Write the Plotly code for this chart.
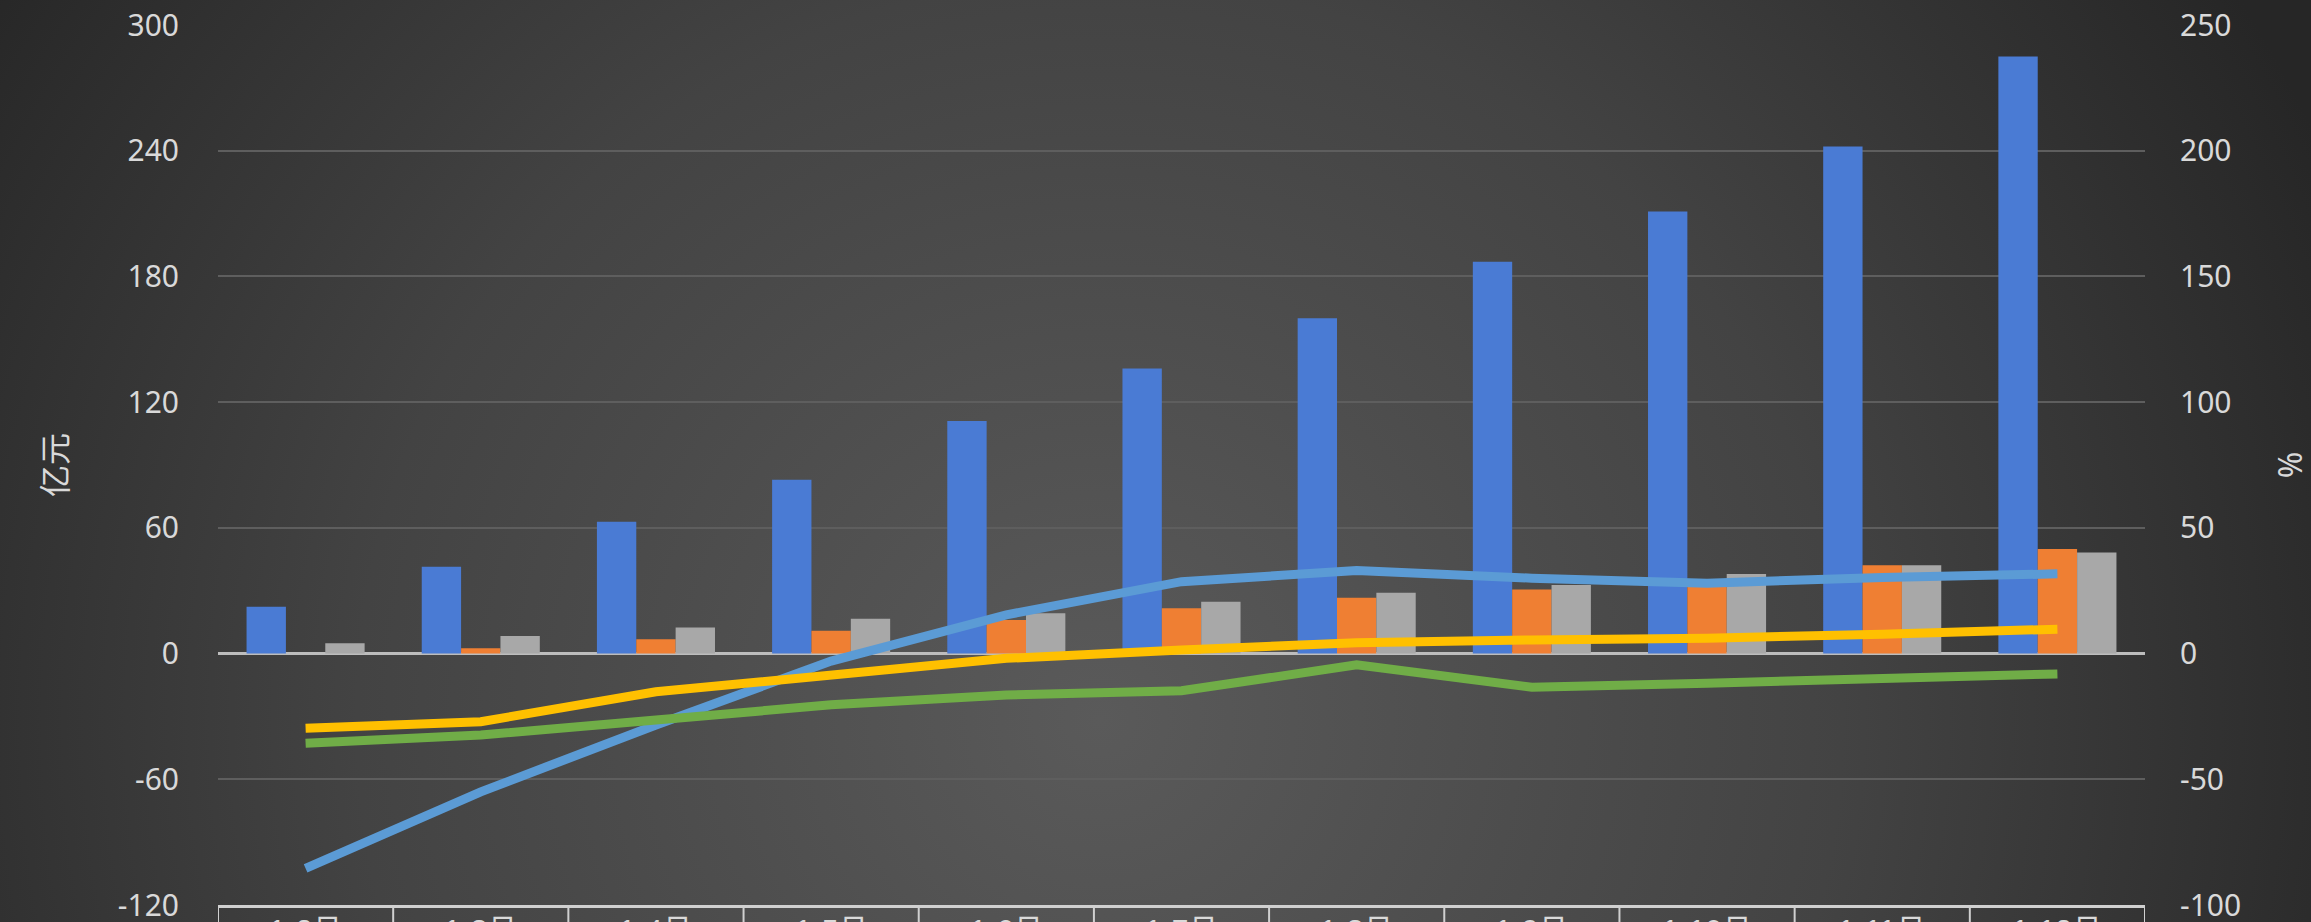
import base64
import plotly.graph_objects as go
from plotly.subplots import make_subplots

categories = ["1-2月", "1-3月", "1-4月", "1-5月", "1-6月", "1-7月",
              "1-8月", "1-9月", "1-10月", "1-11月", "1-12月"]

# bars (left axis, 亿元)
bar_blue = [22.3, 41.4, 62.9, 83.0, 111.0, 136.0, 160.0, 187.0, 211.0, 242.0, 285.0]
bar_orange = [0.0, 2.5, 6.8, 10.9, 16.0, 21.6, 26.6, 30.6, 32.0, 42.2, 49.9]
bar_gray = [4.9, 8.4, 12.5, 16.6, 19.2, 24.7, 29.0, 32.7, 38.0, 42.2, 48.2]

# lines (right axis, %)
line_blue = [-85.4, -55.0, -28.4, -3.0, 15.4, 28.6, 33.0, 30.0, 28.0, 30.3, 31.7]
line_yellow = [-29.7, -27.1, -15.2, -8.8, -1.9, 1.4, 4.3, 5.4, 6.1, 7.7, 9.7]
line_green = [-35.7, -32.4, -26.4, -20.4, -16.5, -14.8, -4.5, -13.4, -11.8, -10.2, -8.1]

left_ticks = [-120, -60, 0, 60, 120, 180, 240, 300]
right_ticks = [-100, -50, 0, 50, 100, 150, 200, 250]

W, H = 2311, 922
ML, MR, MT, MB = 218, 166, 25, 17

fig = make_subplots(specs=[[{"secondary_y": True}]])

bar_specs = [("系列1", bar_blue, "#4a7bd4"),
             ("系列2", bar_orange, "#ef7f33"),
             ("系列3", bar_gray, "#a8a8a8")]
for name, vals, col in bar_specs:
    fig.add_trace(go.Bar(x=categories, y=vals, name=name,
                         marker=dict(color=col, line=dict(width=0))),
                  secondary_y=False)

line_specs = [("增速1", line_blue, "#5b9bd5"),
              ("增速2", line_yellow, "#ffc000"),
              ("增速3", line_green, "#70ad47")]
for name, vals, col in line_specs:
    fig.add_trace(go.Scatter(x=categories, y=vals, name=name, mode="lines",
                             line=dict(color=col, width=9)),
                  secondary_y=True)

svg = (f"<svg xmlns='http://www.w3.org/2000/svg' width='{W}' height='{H}' "
       f"viewBox='0 0 {W} {H}' preserveAspectRatio='none'><defs>"
       "<radialGradient id='g' gradientUnits='userSpaceOnUse' cx='1100' cy='720' r='1350'>"
       "<stop offset='0' stop-color='#5a5a5a'/><stop offset='0.55' stop-color='#434343'/>"
       "<stop offset='1' stop-color='#262626'/></radialGradient></defs>"
       f"<rect width='{W}' height='{H}' fill='url(#g)'/></svg>")
src = "data:image/svg+xml;base64," + base64.b64encode(svg.encode()).decode()

pw = W - ML - MR
ph = H - MT - MB
fig.add_layout_image(dict(source=src, xref="paper", yref="paper",
                          x=-ML / pw, y=1 + MT / ph, sizex=W / pw, sizey=H / ph,
                          xanchor="left", yanchor="top", sizing="stretch",
                          layer="below"))

# category boundary lines below the axis (box style labels)
n = len(categories)
for k in range(n + 1):
    fig.add_shape(type="line", xref="x", yref="paper", x0=k - 0.5, x1=k - 0.5,
                  y0=0, y1=-0.08, line=dict(color="#d0d0d0", width=2), layer="above")

# category labels inside the boxes (cut by the lower page edge, as in the reference)
for cat in categories:
    fig.add_annotation(x=cat, xref="x", y=0, yref="paper", yanchor="top",
                       yshift=-6, text=cat, showarrow=False,
                       font=dict(family="Liberation Sans, Noto Sans CJK SC, sans-serif",
                                 size=30, color="#d9d9d9"))

tick_font = dict(family="Noto Sans, DejaVu Sans, sans-serif", size=30, color="#d9d9d9")

fig.update_layout(
    width=W, height=H,
    margin=dict(l=ML, r=MR, t=MT, b=MB),
    paper_bgcolor="#333333",
    plot_bgcolor="rgba(0,0,0,0)",
    showlegend=False,
    barmode="group",
    bargap=0.326,
    bargroupgap=0,
    font=dict(family="Noto Sans, Noto Sans CJK SC, sans-serif", color="#d9d9d9"),
)

fig.update_xaxes(
    type="category", range=[-0.5, n - 0.5], domain=[0, 1],
    showgrid=False, zeroline=False,
    showline=True, linecolor="#d0d0d0", linewidth=3,
    ticks="", automargin=False, showticklabels=False,
)

fig.update_yaxes(
    range=[-120, 300], tickvals=left_ticks, ticktext=[str(v) for v in left_ticks],
    showgrid=True, gridcolor="#5e5e5e", gridwidth=2,
    zeroline=True, zerolinecolor="#bdbdbd", zerolinewidth=3,
    showline=False, ticks="", tickfont=tick_font, ticklabelstandoff=38,
    ticklabeloverflow="allow", automargin=False,
    title=dict(text="亿元", font=dict(family="Noto Sans CJK SC, sans-serif", size=32, color="#d9d9d9"),
               standoff=40),
    secondary_y=False,
)
fig.update_yaxes(
    range=[-100, 250], tickvals=right_ticks, ticktext=[str(v) for v in right_ticks],
    showgrid=False, zeroline=False, showline=False, ticks="",
    tickfont=tick_font, ticklabelstandoff=34, ticklabeloverflow="allow", automargin=False,
    title=dict(text="%", font=dict(family="Noto Sans, sans-serif", size=32, color="#d9d9d9"),
               standoff=50),
    secondary_y=True,
)

fig.write_html("out.html", config={"displayModeBar": False},
               post_script="document.body.style.margin='0';document.body.style.overflow='hidden';document.body.style.background='#2a2a2a';")
